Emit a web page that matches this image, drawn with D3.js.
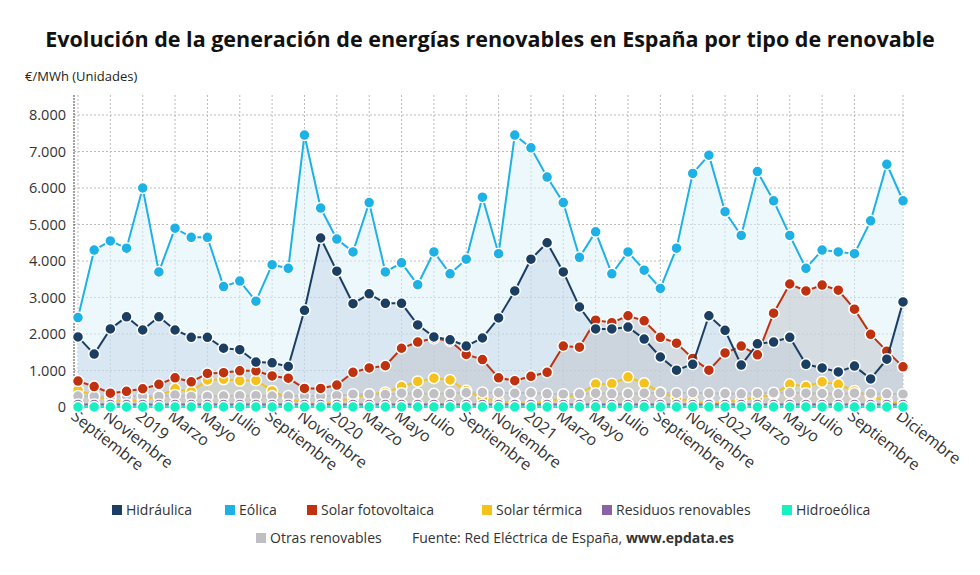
<!DOCTYPE html>
<html><head><meta charset="utf-8">
<script src="https://cdn.jsdelivr.net/npm/d3@7"></script>
<style>body{margin:0;background:#fff;font-family:"Open Sans",sans-serif}</style>
</head><body><svg id="c" width="980" height="575"></svg>
<script>
const months=["Enero","Febrero","Marzo","Abril","Mayo","Junio","Julio","Agosto","Septiembre","Octubre","Noviembre","Diciembre"];
const categories=[];for(let i=0;i<52;i++){const m=(8+i)%12,y=2018+Math.floor((8+i)/12);categories.push(m===0?String(y):months[m]);}
const tickIdx=[0,2,4,6,8,10,12,14,16,18,20,22,24,26,28,30,32,34,36,38,40,42,44,46,48,51];
const yTicks=[0,1000,2000,3000,4000,5000,6000,7000,8000];
const eolica=[2450,4300,4550,4350,6000,3700,4900,4650,4650,3300,3450,2900,3900,3800,7450,5450,4600,4250,5600,3700,3950,3350,4250,3650,4050,5750,4200,7450,7100,6300,5600,4100,4800,3650,4250,3750,3250,4350,6400,6900,5350,4700,6450,5650,4700,3800,4300,4250,4200,5100,6650,5650];
const hidraulica=[1920,1450,2140,2470,2110,2470,2110,1910,1910,1610,1570,1230,1210,1110,2650,4630,3720,2830,3100,2840,2840,2250,1920,1840,1670,1890,2440,3180,4050,4500,3700,2740,2140,2140,2190,1860,1370,1010,1170,2500,2100,1150,1730,1780,1910,1170,1070,960,1120,770,1310,2880];
const solarFV=[710,560,380,430,500,620,800,690,920,940,990,990,850,790,510,510,600,950,1070,1130,1610,1780,1880,1810,1440,1300,800,720,840,950,1670,1640,2380,2310,2500,2360,1910,1750,1330,1010,1480,1670,1430,2570,3370,3180,3340,3200,2680,1990,1530,1100];
const solarTermica=[470,300,200,150,200,300,500,420,740,760,720,730,440,250,100,80,150,250,350,400,560,700,790,740,450,250,150,100,100,150,250,350,630,640,820,650,400,250,150,100,120,200,250,350,620,560,690,620,440,300,150,100];
const residuos=[70,70,70,70,70,70,70,70,70,70,70,70,70,70,70,70,70,70,70,70,70,70,70,70,70,70,70,70,70,70,70,70,70,70,70,70,70,70,70,70,70,70,70,70,70,70,70,70,70,70,70,70];
const hidroeolica=new Array(52).fill(0);
const otras=[300,290,290,300,300,290,330,290,290,300,310,310,300,300,300,300,310,350,350,340,380,370,360,370,390,400,390,380,390,360,350,360,380,360,370,380,390,380,390,380,370,360,380,390,390,380,370,360,380,370,360,350];

const series=[
 {name:"Eólica",v:eolica,c:"#1eb1e6",fill:"#dff2fb",fo:0.55},
 {name:"Hidráulica",v:hidraulica,c:"#1b3f63",fill:"#a9bfd6",fo:0.3},
 {name:"Solar fotovoltaica",v:solarFV,c:"#c0310f",fill:"#c3c6cc",fo:0.55},
 {name:"Otras renovables",v:otras,c:"#c0bfc4",fill:"#c9c9cf",fo:0.5},
 {name:"Solar térmica",v:solarTermica,c:"#f5c21b",fill:"#f5c21b",fo:0.08},
 {name:"Residuos renovables",v:residuos,c:"#8a63a7",fill:"#8a63a7",fo:0},
 {name:"Hidroeólica",v:hidroeolica,c:"#16f0c2",fill:"#16f0c2",fo:0}
];
const svg=d3.select("#c");
const L=74,R=904,T=115,B=407;
const x=d3.scalePoint().domain(d3.range(52)).range([L+4,R-1]);
const y=d3.scaleLinear().domain([0,8000]).range([B,T]);
svg.append("text").attr("x",490).attr("y",47).attr("text-anchor","middle").attr("font-size",21.5).attr("font-weight","bold").attr("fill","#111").text("Evolución de la generación de energías renovables en España por tipo de renovable");
svg.append("text").attr("x",25).attr("y",81).attr("font-size",13).attr("fill","#222").text("€/MWh (Unidades)");
const fmt=d=>d3.format(",")(d).replace(/,/g,".");
const g=svg.append("g");
yTicks.forEach(t=>{g.append("line").attr("x1",L).attr("x2",R).attr("y1",y(t)).attr("y2",y(t)).attr("stroke","#bbb").attr("stroke-dasharray","2,2");
 g.append("text").attr("x",L-8).attr("y",y(t)+5).attr("text-anchor","end").attr("font-size",14.5).attr("fill","#333").text(fmt(t));});
tickIdx.forEach(i=>{g.append("line").attr("x1",x(i)).attr("x2",x(i)).attr("y1",T-20).attr("y2",B).attr("stroke","#bbb").attr("stroke-dasharray","2,2");
 g.append("text").attr("transform",`translate(${x(i)-8},${B+11}) rotate(38)`).attr("font-size",16).attr("fill","#333").text(categories[i]);});
g.append("line").attr("x1",L).attr("x2",L).attr("y1",T-20).attr("y2",B).attr("stroke","#444").attr("stroke-dasharray","2,1");
const area=d3.area().x((d,i)=>x(i)).y0(y(0)).y1(d=>y(d));
const line=d3.line().x((d,i)=>x(i)).y(d=>y(d));
series.forEach(s=>{if(s.fo>0)svg.append("path").attr("d",area(s.v)).attr("fill",s.fill).attr("fill-opacity",s.fo);});
const drawOrder=[4,3,2,1,0,5,6];
drawOrder.forEach(k=>{const s=series[k];
 svg.append("path").attr("d",line(s.v)).attr("fill","none").attr("stroke",s.c).attr("stroke-width",2);
 svg.selectAll(null).data(s.v).enter().append("circle").attr("cx",(d,i)=>x(i)).attr("cy",d=>y(d)).attr("r",5.5).attr("fill",s.c).attr("stroke","#fff").attr("stroke-width",1.5);
});
const leg1=[["Hidráulica","#1b3f63",112],["Eólica","#1eb1e6",225],["Solar fotovoltaica","#c0310f",307],["Solar térmica","#f5c21b",482],["Residuos renovables","#8a63a7",602],["Hidroeólica","#16f0c2",782]];
leg1.forEach(([n,c,lx])=>{svg.append("rect").attr("x",lx).attr("y",505).attr("width",10).attr("height",10).attr("fill",c);
 svg.append("text").attr("x",lx+14).attr("y",515).attr("font-size",14).attr("fill","#333").text(n);});
svg.append("rect").attr("x",256).attr("y",533).attr("width",10).attr("height",10).attr("fill","#c0bfc4");
svg.append("text").attr("x",270).attr("y",543).attr("font-size",14).attr("fill","#333").text("Otras renovables");
const f=svg.append("text").attr("x",412).attr("y",543).attr("font-size",14).attr("fill","#333");
f.append("tspan").text("Fuente: Red Eléctrica de España, ");f.append("tspan").attr("font-weight","bold").text("www.epdata.es");
</script></body></html>
